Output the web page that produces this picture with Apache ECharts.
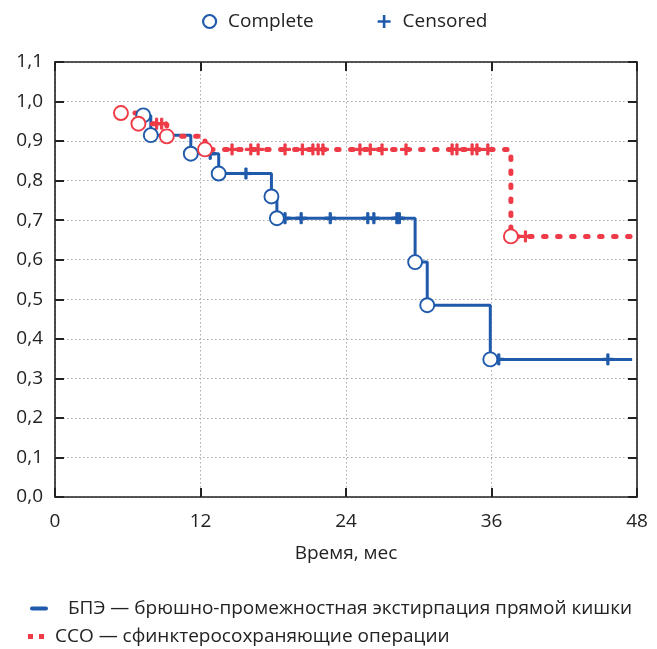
<!DOCTYPE html>
<html>
<head>
<meta charset="utf-8">
<script src="https://cdn.jsdelivr.net/npm/echarts@6/dist/echarts.min.js"></script>
<style>html,body{margin:0;padding:0;background:#fff}#c{width:657px;height:649px}</style>
</head>
<body>
<div id="c"></div>
<script>
// ---- data ----
var xTicks = [0, 12, 24, 36, 48];
var yTicks = [0, 0.1, 0.2, 0.3, 0.4, 0.5, 0.6, 0.7, 0.8, 0.9, 1.0, 1.1];
var bpeName = 'БПЭ — брюшно-промежностная экстирпация прямой кишки';
var ssoName = 'ССО — сфинктеросохраняющие операции';
// step points [time, survival] (value after the step at that time)
var bpeSteps = [[7.28,0.965],[7.9,0.915],[11.2,0.868],[13.5,0.818],[17.85,0.760],[18.3,0.705],[29.7,0.594],[30.7,0.485],[35.9,0.348],[47.6,0.348]];
var bpeEvents = [[7.28,0.965],[7.9,0.915],[11.2,0.868],[13.5,0.818],[17.85,0.760],[18.3,0.705],[29.7,0.594],[30.7,0.485],[35.9,0.348]];
var bpeCensored = [[12.8,0.868],[15.75,0.818],[18.97,0.705],[20.3,0.705],[22.7,0.705],[25.8,0.705],[26.3,0.705],[28.2,0.705],[28.4,0.705],[36.6,0.348],[45.6,0.348]];
var ssoSteps = [[5.44,0.971],[6.88,0.944],[9.22,0.912],[12.37,0.879],[37.6,0.659],[48,0.659]];
var ssoEvents = [[5.44,0.971],[6.88,0.944],[9.22,0.912],[12.37,0.879],[37.6,0.659]];
var ssoCensored = [[8.38,0.944],[8.8,0.944],[14.6,0.879],[16.15,0.879],[16.75,0.879],[18.97,0.879],[20.4,0.879],[21.27,0.879],[21.7,0.879],[22.1,0.879],[25.15,0.879],[26.0,0.879],[26.97,0.879],[28.95,0.879],[32.75,0.879],[33.15,0.879],[34.4,0.879],[34.8,0.879],[35.7,0.879],[38.8,0.659]];

var BLUE = '#1f5aab', RED = '#ee3b47';
var FONT = 'Open Sans';
var PLUS = 'path://M4,0h2v4h4v2h-4v4h-2v-4h-4v-2h4z';

function colored(arr, col) { return arr.map(function(p){ return {value:p, itemStyle:{color:col, borderColor:col}}; }); }

var chart = echarts.init(document.getElementById('c'));
chart.setOption({
  animation:false,
  textStyle:{fontFamily:FONT},
  grid:{left:55, right:20, top:62, bottom:152, containLabel:false},
  legend:[
    {left:197, top:7, itemWidth:13, itemHeight:13, itemGap:64,
     textStyle:{fontSize:19, color:'#222', fontFamily:FONT, padding:[0,0,0,7]},
     data:[
       {name:'Complete', icon:'circle', itemStyle:{color:'#fff', borderColor:BLUE, borderWidth:2.2}},
       {name:'Censored', icon:PLUS, itemStyle:{color:BLUE, borderWidth:0}}
     ]},
    {left:30, top:599, padding:0, itemWidth:18, itemHeight:5,
     textStyle:{fontSize:19, color:'#222', fontFamily:FONT, padding:[0,0,0,15]},
     data:[{name:bpeName, icon:'path://M2,0h14a2,2 0 0 1 0,4h-14a2,2 0 0 1 0,-4z', itemStyle:{color:BLUE}}]},
    {left:28, top:627, padding:0, itemWidth:16, itemHeight:5,
     textStyle:{fontSize:19, color:'#222', fontFamily:FONT, padding:[0,0,0,6]},
     data:[{name:ssoName, icon:'path://M0,0h5v5h-5z M11,0h5v5h-5z', itemStyle:{color:RED}}]}
  ],
  xAxis:[
    {type:'value', min:0, max:48, interval:12, position:'bottom',
     name:'Время, мес', nameLocation:'middle', nameGap:47,
     nameTextStyle:{fontSize:19, color:'#222', fontFamily:FONT},
     axisLine:{show:true, onZero:false, lineStyle:{color:'#222', width:1.6}},
     axisTick:{show:true, inside:true, length:9, lineStyle:{color:'#222', width:2}},
     axisLabel:{fontSize:19, color:'#222', margin:15, fontFamily:FONT,
       formatter:function(v){ return xTicks.indexOf(v) >= 0 ? String(v) : ''; }},
     splitLine:{show:true, lineStyle:{color:'#aaa', type:[1.5,2.5], width:1}}},
    {type:'value', min:0, max:48, interval:12, position:'top',
     axisLine:{show:true, onZero:false, lineStyle:{color:'#222', width:1.6}},
     axisTick:{show:true, inside:true, length:9, lineStyle:{color:'#222', width:2}},
     axisLabel:{show:false}, splitLine:{show:false}}
  ],
  yAxis:[
    {type:'value', min:0, max:1.1, interval:0.1, position:'left',
     axisLine:{show:true, onZero:false, lineStyle:{color:'#222', width:1.6}},
     axisTick:{show:true, inside:true, length:9, lineStyle:{color:'#222', width:2}},
     axisLabel:{fontSize:19, color:'#222', margin:12, fontFamily:FONT,
       formatter:function(v){ return (Math.round(v*10)/10).toFixed(1).replace('.', ','); }},
     splitLine:{show:true, lineStyle:{color:'#aaa', type:[1.5,2.5], width:1}}},
    {type:'value', min:0, max:1.1, interval:0.1, position:'right',
     axisLine:{show:true, onZero:false, lineStyle:{color:'#222', width:1.6}},
     axisTick:{show:true, inside:true, length:9, lineStyle:{color:'#222', width:2}},
     axisLabel:{show:false}, splitLine:{show:false}}
  ],
  series:[
    {name:bpeName, type:'line', step:'end', data:bpeSteps, showSymbol:false, symbol:'none',
     itemStyle:{color:BLUE}, lineStyle:{color:BLUE, width:3}, z:2},
    {name:ssoName, type:'line', step:'end', data:ssoSteps, showSymbol:false, symbol:'none',
     itemStyle:{color:RED}, lineStyle:{color:RED, width:5, type:[2.5,11.5], cap:'round'}, z:3},
    {name:'Censored', type:'scatter', symbol:PLUS, symbolSize:11,
     itemStyle:{color:BLUE, opacity:1},
     data:colored(bpeCensored, BLUE).concat(colored(ssoCensored, RED)), z:4},
    {name:'Complete', type:'scatter', symbol:'circle', symbolSize:14,
     itemStyle:{color:'#fff', borderColor:BLUE, borderWidth:1.9, opacity:1},
     data:bpeEvents.map(function(p){return {value:p, itemStyle:{color:'#fff', borderColor:BLUE}};})
       .concat(ssoEvents.map(function(p){return {value:p, itemStyle:{color:'#fff', borderColor:RED}};})), z:5}
  ]
});
</script>
</body>
</html>
